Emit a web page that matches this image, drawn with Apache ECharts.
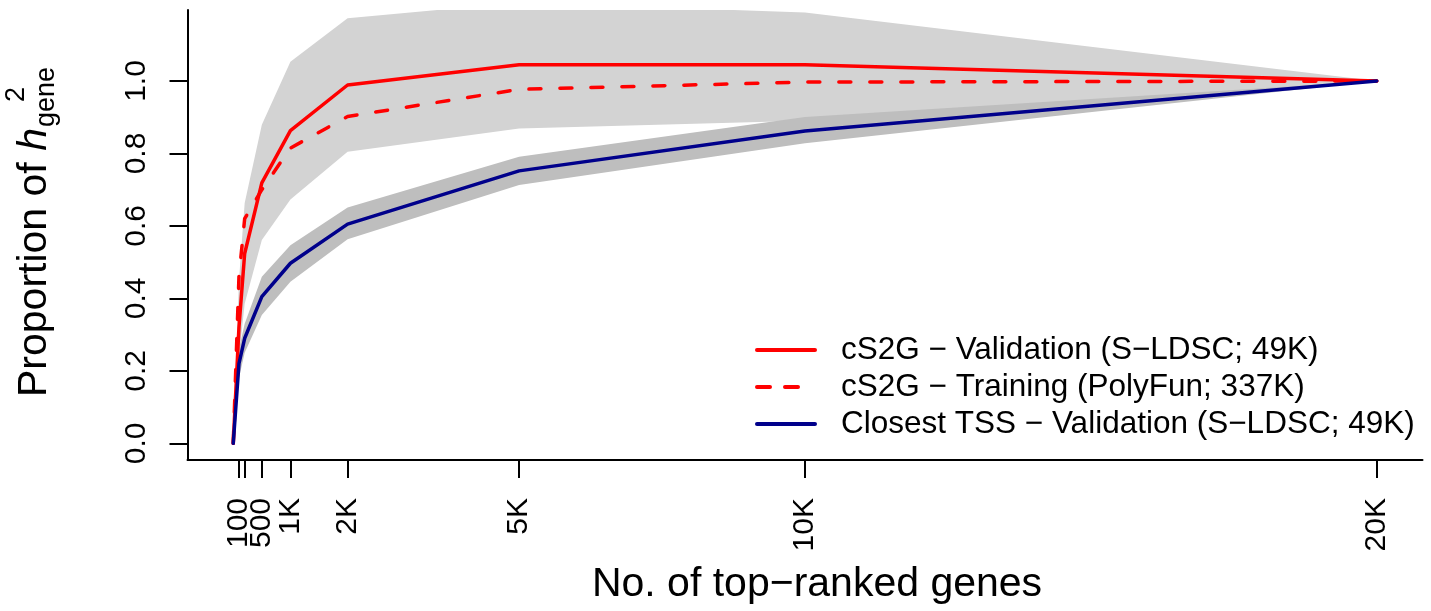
<!DOCTYPE html>
<html>
<head>
<meta charset="utf-8">
<script src="https://cdn.jsdelivr.net/npm/echarts@6/dist/echarts.min.js"></script>
<style>
  html, body { margin: 0; padding: 0; background: #fff; }
  #chart { width: 1431px; height: 611px; }
</style>
</head>
<body>
<div id="chart"></div>
<script>
// Number of top-ranked genes at which the curves are evaluated
const geneCounts = [0, 100, 200, 500, 1000, 2000, 5000, 10000, 20000];

// Proportion of gene-level heritability captured
const cs2gValidation = [0, 0.32, 0.524, 0.719, 0.863, 0.989, 1.045, 1.045, 1.0];
const cs2gTraining   = [0, 0.46, 0.62, 0.70, 0.815, 0.902, 0.977, 0.997, 1.0];
const closestTss     = [0, 0.22, 0.29, 0.405, 0.497, 0.605, 0.752, 0.862, 1.0];

// Uncertainty bands
const cs2gLower = [0, 0.24, 0.385, 0.561, 0.673, 0.805, 0.869, 0.890, 1.0];
const cs2gUpper = [0, 0.45, 0.663, 0.879, 1.053, 1.173, 1.217, 1.189, 1.0];
const tssLower  = [0, 0.18, 0.25, 0.354, 0.446, 0.563, 0.713, 0.828, 1.0];
const tssUpper  = [0, 0.26, 0.33, 0.46, 0.547, 0.651, 0.791, 0.901, 1.0];

// Axis ticks and labels (the crowded 500 tick sits on its own overlay axis)
const xTickValues   = [100, 200, 1000, 2000, 5000, 10000, 20000];
const xLabelValues  = [100, 1000, 2000, 5000, 10000, 20000];
const xLabelText    = ['100', '1K', '2K', '5K', '10K', '20K'];
const xExtraValues  = [500];
const xExtraText    = ['500'];
const yTickValues   = [0, 0.2, 0.4, 0.6, 0.8, 1.0];
const yLabelText    = ['0.0', '0.2', '0.4', '0.6', '0.8', '1.0'];

const seriesNames = [
  'cS2G \u2212 Validation (S\u2212LDSC; 49K)',
  'cS2G \u2212 Training (PolyFun; 337K)',
  'Closest TSS \u2212 Validation (S\u2212LDSC; 49K)'
];

const FONT = "'Liberation Sans', Arial, Helvetica, sans-serif";
const X_MIN = -800, X_MAX = 20800;

function pairs(ys) {
  return geneCounts.map((x, i) => [x, ys[i]]);
}

function band(lower, upper, color, z) {
  return {
    type: 'custom',
    clip: true,
    silent: true,
    z: z,
    data: [[geneCounts[0], lower[0]]],
    renderItem: function (params, api) {
      const pts = [];
      for (let i = 0; i < geneCounts.length; i++) pts.push(api.coord([geneCounts[i], upper[i]]));
      for (let i = geneCounts.length - 1; i >= 0; i--) pts.push(api.coord([geneCounts[i], lower[i]]));
      return { type: 'polygon', shape: { points: pts }, style: { fill: color } };
    }
  };
}

function line(name, ys, color, dashed) {
  return {
    name: name,
    type: 'line',
    data: pairs(ys),
    symbol: 'none',
    clip: true,
    z: 5,
    color: color,
    lineStyle: {
      color: color,
      width: 3.5,
      type: dashed ? [12, 19] : 'solid',
      cap: 'round',
      join: 'round'
    }
  };
}

function xAxisLabelStyle(values, texts) {
  return {
    customValues: values,
    interval: 0,
    rotate: 90,
    margin: 38,
    fontSize: 30,
    color: '#000',
    fontFamily: FONT,
    hideOverlap: false,
    showMinLabel: true,
    showMaxLabel: true,
    formatter: function (v) { return texts[values.indexOf(v)]; }
  };
}

// text measuring for the composite y-axis title
const measureCtx = document.createElement('canvas').getContext('2d');
function textWidth(str, size, style) {
  measureCtx.font = (style || '') + ' ' + size + 'px ' + FONT;
  return measureCtx.measureText(str).width;
}
const titleSize = 41, scriptSize = 27;
const wMain = textWidth('Proportion of ', titleSize);
const wH = textWidth('h', titleSize, 'italic');

const chart = echarts.init(document.getElementById('chart'), null, { renderer: 'canvas' });

chart.setOption({
  animation: false,
  backgroundColor: '#ffffff',
  textStyle: { fontFamily: FONT, color: '#000' },
  grid: { left: 187.5, right: 8.5, top: 10, bottom: 151, containLabel: false },
  xAxis: [{
    type: 'value',
    min: X_MIN,
    max: X_MAX,
    name: 'No. of top\u2212ranked genes',
    nameLocation: 'middle',
    nameGap: 104,
    nameTextStyle: { fontSize: 41, color: '#000', fontFamily: FONT, padding: [0, 0, 0, 24] },
    axisLine: { onZero: false, lineStyle: { color: '#000', width: 2 } },
    axisTick: { customValues: xTickValues, interval: 0, length: 18, lineStyle: { color: '#000', width: 2 } },
    axisLabel: xAxisLabelStyle(xLabelValues, xLabelText),
    splitLine: { show: false }
  }, {
    type: 'value',
    position: 'bottom',
    offset: 0,
    min: X_MIN,
    max: X_MAX,
    axisLine: { show: false, onZero: false },
    axisTick: { customValues: xExtraValues, interval: 0, length: 18, lineStyle: { color: '#000', width: 2 } },
    axisLabel: xAxisLabelStyle(xExtraValues, xExtraText),
    splitLine: { show: false }
  }],
  yAxis: {
    type: 'value',
    min: -0.046,
    max: 1.196,
    axisLine: { onZero: false, lineStyle: { color: '#000', width: 2 } },
    axisTick: { customValues: yTickValues, interval: 0, length: 18, lineStyle: { color: '#000', width: 2 } },
    axisLabel: {
      customValues: yTickValues,
      interval: 0,
      rotate: 90,
      margin: 36,
      fontSize: 30,
      color: '#000',
      fontFamily: FONT,
      hideOverlap: false,
      formatter: function (v) {
        const i = yTickValues.findIndex(t => Math.abs(t - v) < 1e-9);
        return yLabelText[i];
      }
    },
    splitLine: { show: false }
  },
  legend: {
    data: [
      { name: seriesNames[0] },
      { name: seriesNames[1], lineStyle: { type: [13, 15, 13, 100], cap: 'round' } },
      { name: seriesNames[2] }
    ],
    orient: 'vertical',
    left: 755,
    top: 334,
    padding: 0,
    itemWidth: 58,
    itemHeight: 14,
    itemGap: 5,
    selectedMode: false,
    itemStyle: { opacity: 0, borderWidth: 0 },
    lineStyle: { width: 4 },
    textStyle: {
      fontSize: 31.5,
      lineHeight: 31,
      color: '#000',
      fontFamily: FONT,
      padding: [0, 0, 0, 21]
    }
  },
  graphic: [{
    type: 'group',
    x: 35,
    y: 397,
    rotation: Math.PI / 2,
    children: [
      { type: 'text', x: 0, y: 0,
        style: { text: 'Proportion of ', fontSize: titleSize, fontFamily: FONT, fill: '#000', align: 'left', verticalAlign: 'middle' } },
      { type: 'text', x: wMain, y: 0,
        style: { text: 'h', fontSize: titleSize, fontStyle: 'italic', fontFamily: FONT, fill: '#000', align: 'left', verticalAlign: 'middle' } },
      { type: 'text', x: wMain + wH + 26, y: -18,
        style: { text: '2', fontSize: scriptSize, fontFamily: FONT, fill: '#000', align: 'left', verticalAlign: 'middle' } },
      { type: 'text', x: wMain + wH + 1, y: 12,
        style: { text: 'gene', fontSize: scriptSize, fontFamily: FONT, fill: '#000', align: 'left', verticalAlign: 'middle' } }
    ]
  }],
  series: [
    band(cs2gLower, cs2gUpper, '#d3d3d3', 1),
    band(tssLower, tssUpper, '#bebebe', 2),
    line(seriesNames[0], cs2gValidation, '#ff0000', false),
    line(seriesNames[1], cs2gTraining, '#ff0000', true),
    line(seriesNames[2], closestTss, '#00008b', false)
  ]
});
</script>
</body>
</html>
